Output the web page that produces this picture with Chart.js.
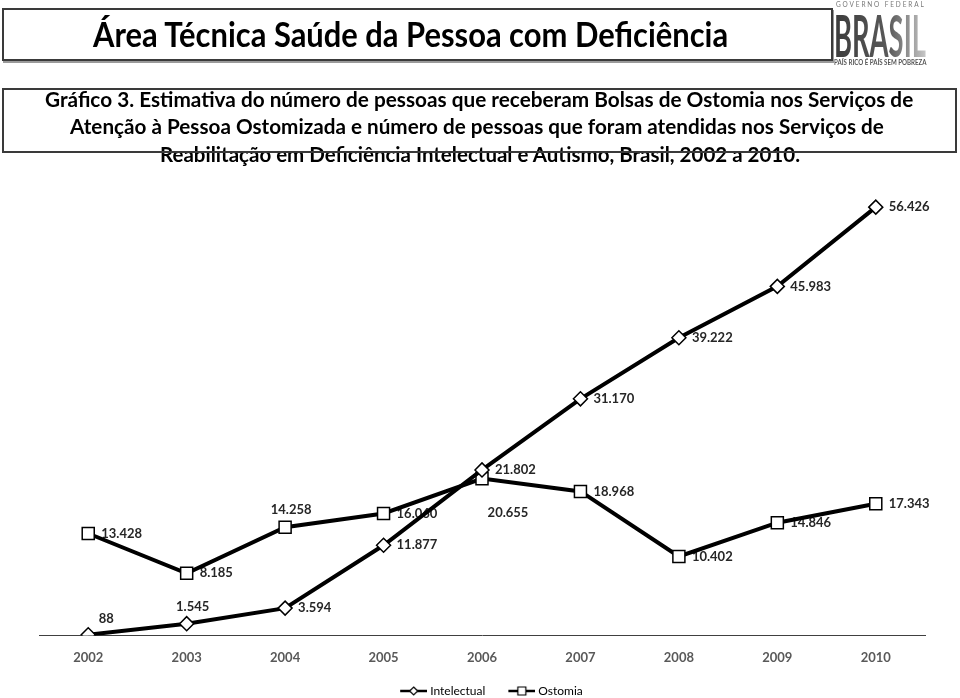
<!DOCTYPE html>
<html lang="pt-BR">
<head>
<meta charset="utf-8">
<title>Gráfico 3 - Ostomia e Intelectual</title>
<script src="https://cdn.jsdelivr.net/npm/chart.js@4.4.1/dist/chart.umd.min.js"></script>
<style>
  html, body { margin: 0; padding: 0; background: #fff; }
  body { width: 960px; height: 698px; position: relative; overflow: hidden; font-family: Lato, 'Open Sans', sans-serif; }
  .box { position: absolute; box-sizing: border-box; border: 2px solid #3a3a3a; z-index: 2; }
  #titleBox { left: 2px; top: 8px; width: 831px; height: 53px; box-shadow: 1px 2px 0 #9a9a9a; }
  #subBox { left: 2px; top: 88px; width: 955px; height: 65px; }
  .fit { position: absolute; white-space: nowrap; font-weight: bold; color: #000; transform-origin: 0 50%; line-height: 1; }
  #title { left: 93px; top: 16px; font-size: 35px; }
  .sub { font-size: 20px; }
  #sub1 { left: 45px; top: 89px; }
  #sub2 { left: 70px; top: 116px; }
  #sub3 { left: 160px; top: 144px; }
  #gov { left: 836px; top: 1px; font-size: 7px; letter-spacing: 2px; color: #777; font-weight: normal; }
  #brasil { left: 834px; top: 6px; font-size: 58px; color: #555;
            background: linear-gradient(90deg, #3c3c3c 0%, #5a5a5a 60%, #c8c8c8 100%);
            -webkit-background-clip: text; background-clip: text; -webkit-text-fill-color: transparent; }
  #slogan { left: 834px; top: 59px; font-size: 7px; color: #555; }
  #chartWrap { position: absolute; left: 0; top: 170px; width: 960px; height: 537px; }
</style>
</head>
<body>
<div class="box" id="titleBox"></div>
<div class="fit" id="title" data-w="635">Área Técnica Saúde da Pessoa com Deficiência</div>

<div class="fit" id="gov" data-w="90">GOVERNO FEDERAL</div>
<div class="fit" id="brasil" data-w="92">BRASIL</div>
<div class="fit" id="slogan" data-w="93">PAÍS RICO É PAÍS SEM POBREZA</div>

<div class="box" id="subBox"></div>
<div class="fit sub" id="sub1" data-w="868">Gráfico 3. Estimativa do número de pessoas que receberam Bolsas de Ostomia nos Serviços de</div>
<div class="fit sub" id="sub2" data-w="814">Atenção à Pessoa Ostomizada e número de pessoas que foram atendidas nos Serviços de</div>
<div class="fit sub" id="sub3" data-w="640">Reabilitação em Deficiência Intelectual e Autismo, Brasil, 2002 a 2010.</div>

<div id="chartWrap"><canvas id="chart"></canvas></div>

<script>
// data
const years = ['2002', '2003', '2004', '2005', '2006', '2007', '2008', '2009', '2010'];
const intelectual = [88, 1545, 3594, 11877, 21802, 31170, 39222, 45983, 56426];
const ostomia = [13428, 8185, 14258, 16060, 20655, 18968, 10402, 14846, 17343];
const seriesNames = ['Intelectual', 'Ostomia'];

// squeeze text lines to the widths seen in the picture
document.querySelectorAll('.fit').forEach(el => {
    const target = +el.dataset.w;
    el.style.transform = 'scaleX(' + (target / el.scrollWidth) + ')';
});

const fmt = v => String(v).replace(/\B(?=(\d{3})+(?!\d))/g, '.');

// where each value label sits next to its marker
const labelOffsets = {
    right: { dx: 13, dy: 0, align: 'left' },
    above: { dx: 6, dy: -17, align: 'center' },
    aboveRight: { dx: 18, dy: -16, align: 'center' },
    below: { dx: 26, dy: 34, align: 'center' }
};

const pointLabels = {
    id: 'pointLabels',
    beforeDatasetsDraw(chart) {
        const ctx = chart.ctx;
        ctx.save();
        ctx.font = 'bold 13px Lato';
        ctx.fillStyle = '#262626';
        ctx.textBaseline = 'middle';
        chart.data.datasets.forEach((ds, i) => {
            chart.getDatasetMeta(i).data.forEach((pt, j) => {
                const o = labelOffsets[ds.labelPos[j]];
                ctx.textAlign = o.align;
                ctx.fillText(fmt(ds.data[j]), pt.x + o.dx, pt.y + o.dy);
            });
        });
        ctx.restore();
    }
};

// legend sample: line with marker, like the spreadsheet legend.
// blank space on the left keeps the items apart; the canvas is a bit wider
// than the legend box so the line runs up close to the text
function legendSample(shape) {
    const c = document.createElement('canvas');
    c.width = 49; c.height = 12;
    const g = c.getContext('2d');
    g.strokeStyle = '#000';
    g.lineWidth = 2.5;
    g.beginPath(); g.moveTo(22, 6); g.lineTo(49, 6); g.stroke();
    g.fillStyle = '#fff';
    g.lineWidth = 1.2;
    g.beginPath();
    if (shape === 'diamond') {
        g.moveTo(35.5, 2); g.lineTo(39.5, 6); g.lineTo(35.5, 10); g.lineTo(31.5, 6); g.closePath();
    } else {
        g.rect(31.5, 2, 8, 8);
    }
    g.fill(); g.stroke();
    return c;
}
const samples = [legendSample('diamond'), legendSample('square')];

new Chart(document.getElementById('chart'), {
    type: 'line',
    data: {
        labels: years,
        datasets: [{
            label: seriesNames[0],
            data: intelectual,
            borderColor: '#000',
            borderWidth: 4,
            pointStyle: 'rectRot',
            pointRadius: 7,
            pointBackgroundColor: '#fff',
            pointBorderColor: '#000',
            pointBorderWidth: 1.5,
            labelPos: ['aboveRight', 'above', 'right', 'right', 'right', 'right', 'right', 'right', 'right']
        }, {
            label: seriesNames[1],
            data: ostomia,
            borderColor: '#000',
            borderWidth: 4,
            pointStyle: 'rect',
            pointRadius: 8.5,
            pointBackgroundColor: '#fff',
            pointBorderColor: '#000',
            pointBorderWidth: 1.5,
            labelPos: ['right', 'right', 'above', 'right', 'below', 'right', 'right', 'right', 'right']
        }]
    },
    options: {
        responsive: true,
        maintainAspectRatio: false,
        animation: false,
        layout: { padding: { left: 39, right: 35, top: 10, bottom: 0 } },
        plugins: {
            tooltip: { enabled: false },
            legend: {
                position: 'bottom',
                labels: {
                    usePointStyle: true,
                    pointStyleWidth: 43,
                    padding: 4,
                    color: '#000',
                    font: { family: 'Lato', size: 12 },
                    generateLabels(chart) {
                        return Chart.defaults.plugins.legend.labels.generateLabels(chart)
                            .map((item, i) => ({ ...item, pointStyle: samples[i] }));
                    }
                }
            }
        },
        scales: {
            x: {
                offset: true,
                grid: { display: false, drawTicks: false },
                border: { display: true, color: '#404040', width: 1 },
                ticks: { color: '#595959', padding: 15, font: { family: 'Lato', size: 13, weight: 'bold' } }
            },
            y: {
                display: false,
                min: 0,
                max: 60000
            }
        }
    },
    plugins: [pointLabels]
});
</script>
</body>
</html>
